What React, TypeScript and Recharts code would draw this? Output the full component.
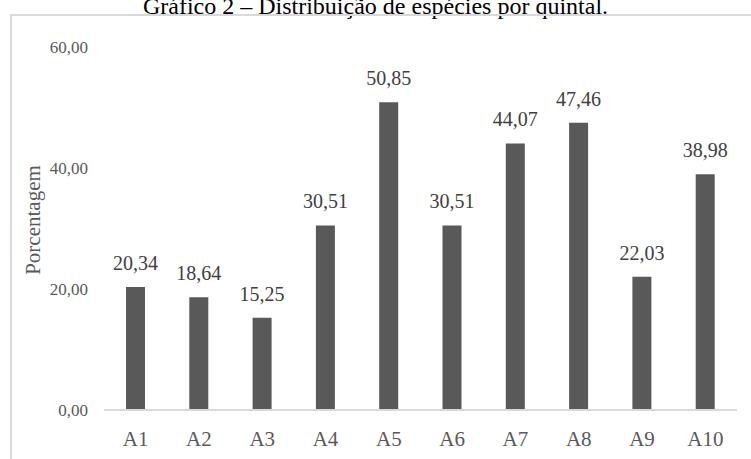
import { Bar, BarChart, LabelList, XAxis, YAxis } from "recharts";

const quintais = ["A1", "A2", "A3", "A4", "A5", "A6", "A7", "A8", "A9", "A10"];
const porcentagem = [20.34, 18.64, 15.25, 30.51, 50.85, 30.51, 44.07, 47.46, 22.03, 38.98];
const yTicks = [0, 20, 40, 60];

const data = quintais.map((q, i) => ({ q, v: porcentagem[i] }));

const fmt = (n: number) => n.toFixed(2).replace(".", ",");
const serif = "'Liberation Serif', 'Times New Roman', serif";

export default function App() {
  return (
    <div style={{ position: "absolute", left: 0, top: 0, width: 751, height: 459, overflow: "hidden", background: "#fff", fontFamily: serif }}>
      <div
        style={{
          position: "absolute",
          left: 0,
          width: 751,
          top: -7,
          textAlign: "center",
          fontSize: 24,
          lineHeight: "26px",
          color: "#000",
        }}
      >
        Gráfico 2 – Distribuição de espécies por quintal.
      </div>
      <div
        style={{
          position: "absolute",
          left: 10,
          top: 14,
          width: 760,
          height: 460,
          border: "2px solid #d9d9d9",
          boxSizing: "border-box",
        }}
      />
      <div
        style={{
          position: "absolute",
          left: 22,
          top: 220,
          transform: "translate(-50%, -50%) rotate(-90deg)",
          transformOrigin: "center",
          fontSize: 21,
          color: "#595959",
          whiteSpace: "nowrap",
          marginLeft: 11,
        }}
      >
        Porcentagem
      </div>
      <div style={{ position: "absolute", left: 0, top: 0 }}>
        <BarChart width={751} height={459} data={data} margin={{ top: 47, right: 14, bottom: 19, left: 0 }}>
          <XAxis
            dataKey="q"
            height={30}
            axisLine={{ stroke: "#d9d9d9", strokeWidth: 2 }}
            tickLine={false}
            tickSize={0}
            tickMargin={21}
            tick={{ fill: "#595959", fontSize: 21, fontFamily: serif }}
          />
          <YAxis
            width={104}
            domain={[0, 60]}
            ticks={yTicks}
            axisLine={false}
            tickLine={false}
            tickSize={0}
            tickMargin={16}
            tickFormatter={fmt}
            tick={{ fill: "#595959", fontSize: 17, fontFamily: serif }}
          />
          <Bar dataKey="v" fill="#595959" barSize={19} isAnimationActive={false}>
            <LabelList
              dataKey="v"
              position="top"
              offset={17}
              formatter={(v: number) => fmt(v)}
              style={{ fill: "#404040", fontSize: 20, fontFamily: serif }}
            />
          </Bar>
        </BarChart>
      </div>
    </div>
  );
}
